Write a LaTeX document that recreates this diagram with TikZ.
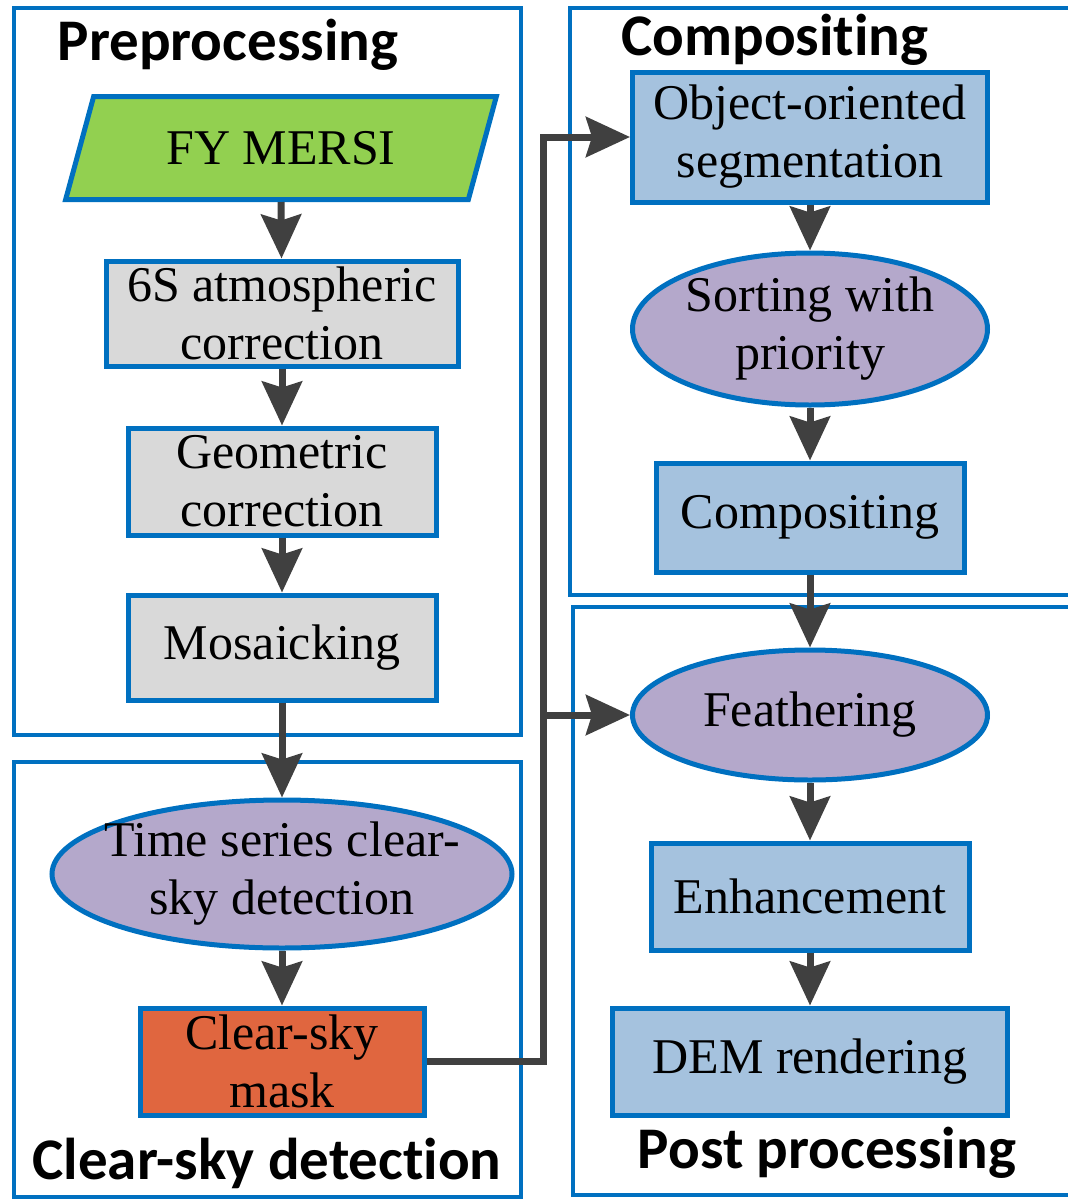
\documentclass[tikz,border=0pt]{standalone}
\usepackage{fontspec}
\setmainfont{Liberation Serif}
\newfontfamily\headfont[Ligatures=NoCommon]{Carlito}
\usetikzlibrary{shapes.geometric,arrows.meta}

\definecolor{frameblue}{HTML}{0070C0}
\definecolor{inputgreen}{HTML}{92D050}
\definecolor{procgray}{HTML}{D9D9D9}
\definecolor{procblue}{HTML}{A5C2DE}
\definecolor{ovalpurple}{HTML}{B4A8CB}
\definecolor{maskorange}{HTML}{E0663F}
\definecolor{arrowgray}{HTML}{404040}

\tikzset{
	proc/.style={draw=frameblue, line width=5pt, rectangle, align=center, inner sep=0pt,
		font=\fontsize{50}{58}\selectfont},
	oval/.style={proc, ellipse, fill=ovalpurple},
	frame/.style={draw=frameblue, line width=4pt},
	grouptitle/.style={font=\headfont\bfseries\fontsize{59}{66}\selectfont},
	arr/.style={draw=arrowgray, line width=7pt, -{Stealth[length=44pt,width=40pt,inset=6pt]}},
	bus/.style={draw=arrowgray, line width=7pt}
}

\begin{document}
\begin{tikzpicture}[x=1pt,y=-1pt]
		\useasboundingbox (0,0) rectangle (1068,1200);
		\clip (0,0) rectangle (1068,1200);
		% group frames
		\draw[frame] (14,8) rectangle (521,735);
		\draw[frame] (14,762) rectangle (521,1197);
		\draw[frame] (570,8) rectangle (1080,595);
		\draw[frame] (573,607) rectangle (1080,1195);
		\node[grouptitle] (ttlprep) at (228,45) {Preprocessing};
		\node[grouptitle] (ttlcomp) at (775,40) {Compositing};
		\node[grouptitle] (ttlcsd) at (267,1163) {Clear-sky detection};
		\node[grouptitle] (ttlpost) at (827,1153) {Post processing};
		% preprocessing
		\node[proc, trapezium, trapezium left angle=63, trapezium right angle=117, trapezium stretches=true,
			minimum width=432pt, minimum height=103pt, fill=inputgreen] (fy) at (281,148) {FY MERSI};
		\node[proc, fill=procgray, minimum width=352pt, minimum height=105pt] (atm) at (282,313.5) {6S atmospheric\\correction};
		\node[proc, fill=procgray, minimum width=308pt, minimum height=107pt] (geo) at (282,481.5) {Geometric\\correction};
		\node[proc, fill=procgray, minimum width=308pt, minimum height=105pt] (mosaic) at (282,647.5) {Mosaicking};
		% clear-sky detection
		\node[oval, inner xsep=-30pt, inner ysep=-15pt, minimum width=460pt, minimum height=148pt] (tscs) at (282,874) {Time series clear-\\sky detection};
		\node[proc, fill=maskorange, minimum width=284pt, minimum height=107pt] (mask) at (282,1061.5) {Clear-sky\\mask};
		% compositing
		\node[proc, fill=procblue, minimum width=355pt, minimum height=130pt] (obj) at (810,137) {Object-oriented\\segmentation};
		\node[oval, inner xsep=-20pt, inner ysep=-10pt, minimum width=355pt, minimum height=152pt] (sort) at (810,329) {Sorting with\\priority};
		\node[proc, fill=procblue, minimum width=308pt, minimum height=109pt] (comp) at (810,517.5) {Compositing};
		% post processing
		\node[oval, minimum width=355pt, minimum height=130pt] (feather) at (810,715) {Feathering};
		\node[proc, fill=procblue, minimum width=318pt, minimum height=107pt] (enh) at (810,896.5) {Enhancement};
		\node[proc, fill=procblue, minimum width=395pt, minimum height=107pt] (dem) at (810,1061.5) {DEM rendering};
		% arrows
		\draw[arr] (fy.south) -- (atm);
		\draw[arr] (atm) -- (geo);
		\draw[arr] (geo) -- (mosaic);
		\draw[arr] (mosaic) -- (tscs);
		\draw[arr] (tscs) -- (mask);
		\draw[arr] (obj) -- (sort);
		\draw[arr] (sort) -- (comp);
		\draw[arr] (comp) -- (feather);
		\draw[arr] (feather) -- (enh);
		\draw[arr] (enh) -- (dem);
		\coordinate (split) at (543,715);
		\draw[bus] (mask.east) -| (split);
		\draw[arr] (split) |- (obj.west);
		\draw[arr] (split) -- (feather.west);
	\end{tikzpicture}
\end{document}
